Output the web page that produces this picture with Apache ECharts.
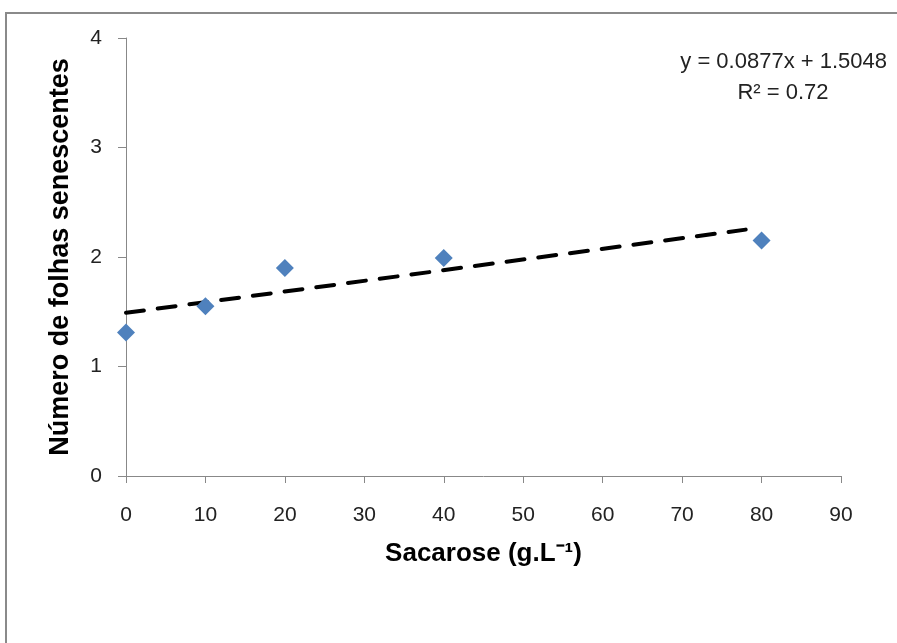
<!DOCTYPE html>
<html>
<head>
<meta charset="utf-8">
<script src="https://cdn.jsdelivr.net/npm/echarts@6/dist/echarts.min.js"></script>
<style>
  html, body { margin: 0; padding: 0; background: #fff; }
  #main { width: 897px; height: 643px; }
</style>
</head>
<body>
<div id="main"></div>
<script>
var chart = echarts.init(document.getElementById('main'));

// dados
var sacarose = [0, 10, 20, 40, 80];
var folhas = [1.31, 1.55, 1.9, 1.99, 2.15];
var trendX = [0, 78];
var trendY = [1.49, 2.25];
var equacao = ['y = 0.0877x + 1.5048', 'R² = 0.72'];

var pontos = sacarose.map(function (x, i) { return [x, folhas[i]]; });
var linha = trendX.map(function (x, i) { return [x, trendY[i]]; });

var corEixo = '#888888';
var fonteNum = 'Liberation Sans';

chart.setOption({
  backgroundColor: '#ffffff',
  animation: false,
  grid: { left: 126, right: 56, top: 38, bottom: 167 },
  xAxis: {
    type: 'value',
    min: 0, max: 90, interval: 10,
    name: 'Sacarose (g.L⁻¹)',
    nameLocation: 'middle',
    nameGap: 65,
    nameTextStyle: { fontFamily: 'Liberation Sans', fontWeight: 'bold', fontSize: 26, color: '#000' },
    axisLine: { lineStyle: { color: corEixo, width: 1 } },
    axisTick: { show: true, length: 7, lineStyle: { color: corEixo } },
    axisLabel: { margin: 29, fontFamily: fonteNum, fontSize: 21, color: '#222' },
    splitLine: { show: false }
  },
  yAxis: {
    type: 'value',
    min: 0, max: 4, interval: 1,
    name: 'Número de folhas senescentes',
    nameLocation: 'middle',
    nameGap: 52,
    nameTextStyle: { fontFamily: 'Liberation Sans', fontWeight: 'bold', fontSize: 27, color: '#000' },
    axisLine: { show: true, lineStyle: { color: corEixo, width: 1 } },
    axisTick: { show: true, length: 8, lineStyle: { color: corEixo } },
    axisLabel: { margin: 24, fontFamily: fonteNum, fontSize: 21, color: '#222' },
    splitLine: { show: false }
  },
  series: [
    {
      type: 'line',
      data: linha,
      symbol: 'none',
      lineStyle: { color: '#000', width: 4, type: [18, 14], cap: 'round' },
      z: 2
    },
    {
      type: 'scatter',
      data: pontos,
      symbol: 'diamond',
      symbolSize: [18, 18],
      itemStyle: { color: '#4F81BD', opacity: 1 },
      z: 3
    }
  ],
  graphic: [
    {
      type: 'rect',
      shape: { x: 6, y: 13, width: 1000, height: 800 },
      style: { fill: 'none', stroke: '#8a8a8a', lineWidth: 2 },
      silent: true
    },
    {
      type: 'text',
      x: 887, y: 62,
      style: { text: equacao[0], fontFamily: fonteNum, fontSize: 22, fill: '#222', textAlign: 'right', textVerticalAlign: 'middle' }
    },
    {
      type: 'text',
      x: 783, y: 93,
      style: { text: equacao[1], fontFamily: fonteNum, fontSize: 22, fill: '#222', textAlign: 'center', textVerticalAlign: 'middle' }
    }
  ]
});
</script>
</body>
</html>
